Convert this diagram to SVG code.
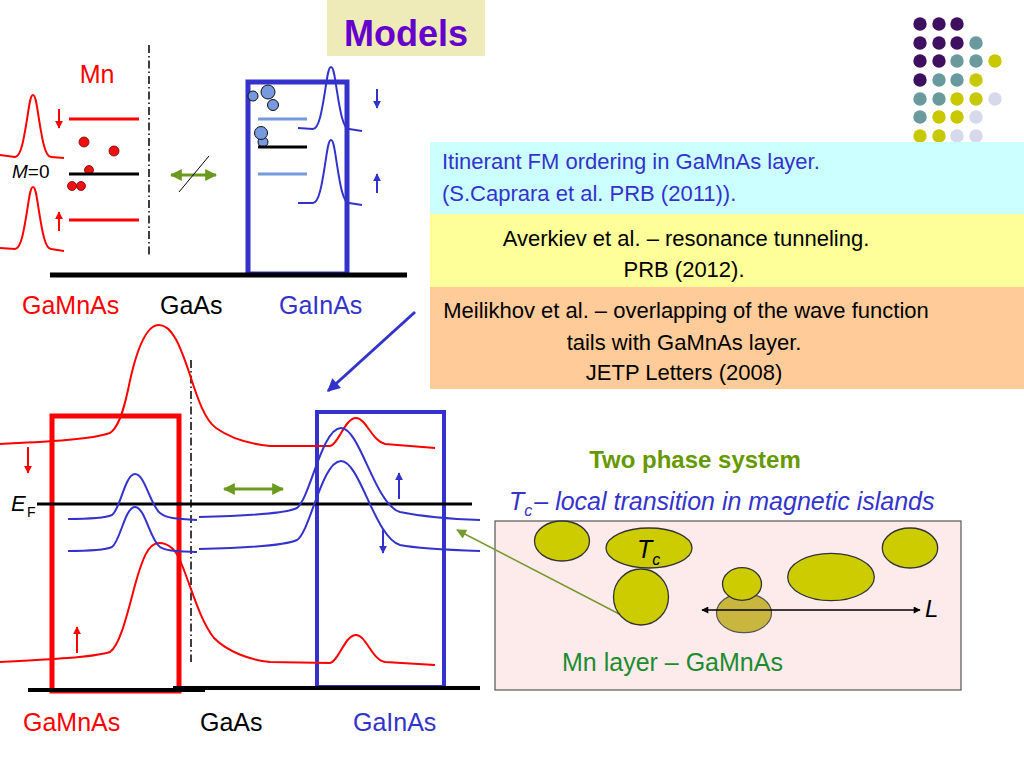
<svg xmlns="http://www.w3.org/2000/svg" width="1024" height="768" viewBox="0 0 1024 768">
<style>
text{font-family:"Liberation Sans",Arial,Helvetica,sans-serif}
.t22{font-size:22px}
.t24{font-size:25px}
.red{fill:#ff0000}
.blu{fill:#3333cc}
.blk{fill:#000}
.rc{fill:none;stroke:#ff0000;stroke-width:2}
.bc{fill:none;stroke:#3333cc;stroke-width:2}
.dd{fill:none;stroke:#000;stroke-width:1.5;stroke-dasharray:8 3 1.5 3}
.lb{stroke:#7799dd;stroke-width:3}
.isl{fill:#cccc00;stroke:#333;stroke-width:1.3}
.rd{fill:#ee1111;stroke:#700;stroke-width:0.8}
.bd{fill:#7799dd;stroke:#111;stroke-width:1}
</style>
<defs>
<marker id="mr" viewBox="0 0 10 10" refX="9" refY="5" markerWidth="8" markerHeight="8" markerUnits="userSpaceOnUse" orient="auto-start-reverse"><path d="M0,0 L10,5 L0,10 z" fill="#ff0000"/></marker>
<marker id="mb" viewBox="0 0 10 10" refX="9" refY="5" markerWidth="8" markerHeight="8" markerUnits="userSpaceOnUse" orient="auto-start-reverse"><path d="M0,0 L10,5 L0,10 z" fill="#3333cc"/></marker>
<marker id="mg" viewBox="0 0 10 10" refX="9" refY="5" markerWidth="12" markerHeight="12" markerUnits="userSpaceOnUse" orient="auto-start-reverse"><path d="M0,0 L10,5 L0,10 z" fill="#6b9a1f"/></marker>
<marker id="mk" viewBox="0 0 10 10" refX="9" refY="5" markerWidth="9" markerHeight="7" markerUnits="userSpaceOnUse" orient="auto-start-reverse"><path d="M0,0 L10,5 L0,10 z" fill="#000"/></marker>
<marker id="mbb" viewBox="0 0 10 10" refX="9" refY="5" markerWidth="14" markerHeight="13" markerUnits="userSpaceOnUse" orient="auto-start-reverse"><path d="M0,0 L10,5 L0,10 z" fill="#3333cc"/></marker>
<marker id="mo" viewBox="0 0 10 10" refX="9" refY="5" markerWidth="12" markerHeight="10" markerUnits="userSpaceOnUse" orient="auto-start-reverse"><path d="M0,0 L10,5 L0,10 z" fill="#779933"/></marker>
</defs>
<rect x="0" y="0" width="1024" height="768" fill="#fff"/>

<g id="title">
<rect x="327" y="0" width="158" height="56" fill="#efebb8"/>
<text x="406" y="46" text-anchor="middle" font-size="36" font-weight="bold" fill="#6600cc">Models</text>
</g>

<g id="dots">
<g fill="#3f1060">
<circle cx="920" cy="24" r="6.7"/><circle cx="939" cy="24" r="6.7"/><circle cx="957" cy="24" r="6.7"/>
<circle cx="920" cy="43" r="6.7"/><circle cx="939" cy="43" r="6.7"/><circle cx="957" cy="43" r="6.7"/>
<circle cx="920" cy="61" r="6.7"/><circle cx="939" cy="61" r="6.7"/>
<circle cx="920" cy="80" r="6.7"/>
</g>
<g fill="#6a9a9e">
<circle cx="976" cy="43" r="6.7"/>
<circle cx="957" cy="61" r="6.7"/><circle cx="976" cy="61" r="6.7"/>
<circle cx="939" cy="80" r="6.7"/><circle cx="957" cy="80" r="6.7"/>
<circle cx="920" cy="99" r="6.7"/><circle cx="939" cy="99" r="6.7"/>
<circle cx="920" cy="117" r="6.7"/>
</g>
<g fill="#c8c800">
<circle cx="995" cy="61" r="6.7"/>
<circle cx="976" cy="80" r="6.7"/>
<circle cx="957" cy="99" r="6.7"/><circle cx="976" cy="99" r="6.7"/>
<circle cx="939" cy="117" r="6.7"/><circle cx="957" cy="117" r="6.7"/>
<circle cx="920" cy="136" r="6.7"/><circle cx="939" cy="136" r="6.7"/>
</g>
<g fill="#d8d8ec">
<circle cx="995" cy="99" r="6.7"/>
<circle cx="976" cy="117" r="6.7"/>
<circle cx="957" cy="136" r="6.7"/><circle cx="976" cy="136" r="6.7"/>
</g>
</g>

<g id="box-itinerant">
<rect x="430" y="142" width="594" height="72" fill="#ccffff"/>
<text class="t22 blu" x="442" y="169">Itinerant FM ordering in GaMnAs layer.</text>
<text class="t22 blu" x="442" y="201">(S.Caprara et al. PRB (2011)).</text>
</g>
<g id="box-averkiev">
<rect x="430" y="214" width="594" height="73" fill="#ffff99"/>
<text class="t22 blk" x="686" y="246" text-anchor="middle">Averkiev et al. – resonance tunneling.</text>
<text class="t22 blk" x="684" y="277" text-anchor="middle">PRB (2012).</text>
</g>
<g id="box-meilikhov">
<rect x="430" y="287" width="594" height="102" fill="#ffcc99"/>
<text class="t22 blk" x="686" y="318" text-anchor="middle">Meilikhov et al. – overlapping of the wave function</text>
<text class="t22 blk" x="684" y="350" text-anchor="middle">tails with GaMnAs layer.</text>
<text class="t22 blk" x="684" y="380" text-anchor="middle">JETP Letters (2008)</text>
</g>

<g id="top-diagram">
<line class="dd" x1="149" y1="45" x2="149" y2="257"/>
<text class="t24 red" x="97" y="83" text-anchor="middle">Mn</text>
<path class="rc" d="M0,155 L15,157 C21,157 24,138.2 27,119.4 C29.1,106.2 30.3,95 33,95 C35.7,95 36.9,106.2 39,119.4 C42,138.2 45,157 51,157 L64,158"/>
<path class="rc" d="M0,248 L15,249 C21,249 24,230.2 27,211.4 C29.1,198.2 30.3,187 33,187 C35.7,187 36.9,198.2 39,211.4 C42,230.2 45,249 51,249 L64,251"/>
<line x1="59" y1="109" x2="59" y2="128" stroke="#ff0000" stroke-width="2" marker-end="url(#mr)"/>
<line x1="59" y1="231" x2="59" y2="212" stroke="#ff0000" stroke-width="2" marker-end="url(#mr)"/>
<line x1="69" y1="119" x2="139" y2="119" stroke="#ff0000" stroke-width="3"/>
<line x1="69" y1="220" x2="139" y2="220" stroke="#ff0000" stroke-width="3"/>
<circle class="rd" cx="84" cy="142" r="5"/>
<circle class="rd" cx="114" cy="151" r="5"/>
<circle class="rd" cx="89" cy="170" r="4.5"/>
<circle class="rd" cx="72" cy="186" r="4.5"/>
<circle class="rd" cx="81" cy="186" r="4.5"/>
<line x1="69" y1="174" x2="139" y2="174" stroke="#000" stroke-width="3"/>
<text x="12" y="178" font-size="19" fill="#000"><tspan font-style="italic">M</tspan>=0</text>
<line x1="171" y1="175" x2="216" y2="175" stroke="#6b9a1f" stroke-width="3" marker-start="url(#mg)" marker-end="url(#mg)"/>
<line x1="179" y1="192" x2="209" y2="156" stroke="#000" stroke-width="1"/>
<rect x="248" y="82" width="99" height="192" fill="none" stroke="#3333cc" stroke-width="5"/>
<circle class="bd" cx="253" cy="96" r="5"/>
<circle class="bd" cx="268" cy="92" r="7"/>
<circle class="bd" cx="273" cy="105" r="5.5"/>
<circle class="bd" cx="263" cy="142" r="5"/>
<circle class="bd" cx="261" cy="133" r="6.5"/>
<line class="lb" x1="258" y1="119" x2="307" y2="119"/>
<line class="lb" x1="258" y1="174" x2="307" y2="174"/>
<line x1="258" y1="147" x2="307" y2="147" stroke="#000" stroke-width="3"/>
<path class="bc" d="M298,128 L313,129 C319,129 322,110.2 325,91.4 C327.1,78.2 328.3,67 331,67 C333.7,67 334.9,78.2 337,91.4 C340,110.2 343,129 349,129 L362,131"/>
<path class="bc" d="M298,203 L313,203 C319,203 322,183.9 325,164.8 C327.1,151.4 328.3,140 331,140 C333.7,140 334.9,151.4 337,164.8 C340,183.9 343,203 349,203 L362,205"/>
<line x1="377" y1="89" x2="377" y2="108" stroke="#3333cc" stroke-width="2" marker-end="url(#mb)"/>
<line x1="377" y1="193" x2="377" y2="174" stroke="#3333cc" stroke-width="2" marker-end="url(#mb)"/>
<line x1="50" y1="275" x2="407" y2="275" stroke="#000" stroke-width="5"/>
<text class="t24 red" x="22" y="314">GaMnAs</text>
<text class="t24 blk" x="160" y="314">GaAs</text>
<text class="t24 blu" x="279" y="314">GaInAs</text>
</g>

<g id="bottom-diagram">
<line class="dd" x1="191" y1="360" x2="191" y2="662"/>
<rect x="52" y="416" width="127" height="275" fill="none" stroke="#ff0000" stroke-width="5"/>
<rect x="317" y="412" width="127" height="275" fill="none" stroke="#3333cc" stroke-width="4"/>
<path class="rc" d="M0,444 C40,442 90,440 110,433 C118,428 123,413 128,390 C135,355 145,325 159,325 C172,325 180,345 190,375 C198,400 205,420 216,428 C230,438 250,444 270,446 L330,446 C338,445 345,418 356,418 C366,418 372,441 385,444 L435,448"/>
<path class="rc" d="M0,662 C40,660 90,658 110,652 C120,645 127,615 135,585 C142,560 148,543 159,543 C168,543 176,548 182,565 C192,590 200,620 214,638 C228,652 250,660 270,662 L330,663 C338,662 345,635 356,635 C366,635 372,660 385,662 L435,665"/>
<line x1="37" y1="504" x2="472" y2="504" stroke="#000" stroke-width="3"/>
<path class="bc" d="M68,519 C90,519 105,518 112,515 C120,510 125,474 135,474 C145,474 150,505 160,513 C166,518 175,519 197,520 M199,517 C240,516 285,514 297,508 C310,498 322,428 341,428 C360,428 375,505 400,512 C420,516 450,519 480,520"/>
<path class="bc" d="M68,551 C90,551 105,550 112,547 C120,542 125,507 135,507 C145,507 150,540 160,547 C166,551 175,551 197,552 M199,549 C240,548 285,546 297,540 C310,532 322,461 341,461 C360,461 375,538 400,545 C420,549 450,550 480,551"/>
<line x1="28" y1="447" x2="28" y2="473" stroke="#ff0000" stroke-width="2" marker-end="url(#mr)"/>
<line x1="77" y1="653" x2="77" y2="627" stroke="#ff0000" stroke-width="2" marker-end="url(#mr)"/>
<line x1="399" y1="499" x2="399" y2="473" stroke="#3333cc" stroke-width="2" marker-end="url(#mb)"/>
<line x1="383" y1="529" x2="383" y2="553" stroke="#3333cc" stroke-width="2" marker-end="url(#mb)"/>
<line x1="224" y1="489" x2="283" y2="489" stroke="#6b9a1f" stroke-width="3" marker-start="url(#mg)" marker-end="url(#mg)"/>
<line x1="28" y1="690" x2="205" y2="690" stroke="#000" stroke-width="4"/>
<line x1="173" y1="688" x2="480" y2="688" stroke="#000" stroke-width="4"/>
<text x="11" y="511" font-size="22" font-style="italic" fill="#000">E</text>
<text x="27" y="517" font-size="14" fill="#000">F</text>
<text class="t24 red" x="23" y="731">GaMnAs</text>
<text class="t24 blk" x="200" y="731">GaAs</text>
<text class="t24 blu" x="353" y="731">GaInAs</text>
</g>

<g id="two-phase">
<text x="695" y="468" text-anchor="middle" font-size="24" font-weight="bold" fill="#669900">Two phase system</text>
<text x="509" y="510" font-size="25" font-style="italic" fill="#3333cc">T<tspan font-size="16" dy="6">c</tspan><tspan dy="-6" dx="2">– local transition in magnetic islands</tspan></text>
<rect x="495" y="521" width="466" height="169" fill="#fdebeb" stroke="#555" stroke-width="1.2"/>
</g>

<g id="connectors">
<line x1="415" y1="312" x2="328" y2="391" stroke="#3333cc" stroke-width="3" marker-end="url(#mbb)"/>
<line x1="625" y1="617" x2="457" y2="530" stroke="#779933" stroke-width="1.5" marker-end="url(#mo)"/>
</g>

<g id="islands">
<ellipse class="isl" cx="562" cy="541" rx="27.5" ry="20"/>
<ellipse class="isl" cx="649" cy="548" rx="43" ry="20"/>
<ellipse class="isl" cx="641" cy="597" rx="27.5" ry="28"/>
<ellipse cx="744" cy="613" rx="27.5" ry="19.7" fill="#c9b63e" stroke="#555" stroke-width="1.2"/>
<ellipse class="isl" cx="742" cy="584" rx="19.5" ry="16.3"/>
<ellipse class="isl" cx="831" cy="577" rx="43.3" ry="23.7"/>
<ellipse class="isl" cx="910" cy="548" rx="27.7" ry="20"/>
<text x="637" y="558" font-size="25" font-style="italic" fill="#000">T<tspan font-size="16" dy="7">c</tspan></text>
<line x1="702" y1="610" x2="920" y2="610" stroke="#000" stroke-width="1.5" marker-start="url(#mk)" marker-end="url(#mk)"/>
<text x="925" y="617" font-size="24" font-style="italic" fill="#000">L</text>
<text x="562" y="671" font-size="25" fill="#1e8b2e">Mn layer – GaMnAs</text>
</g>
</svg>
